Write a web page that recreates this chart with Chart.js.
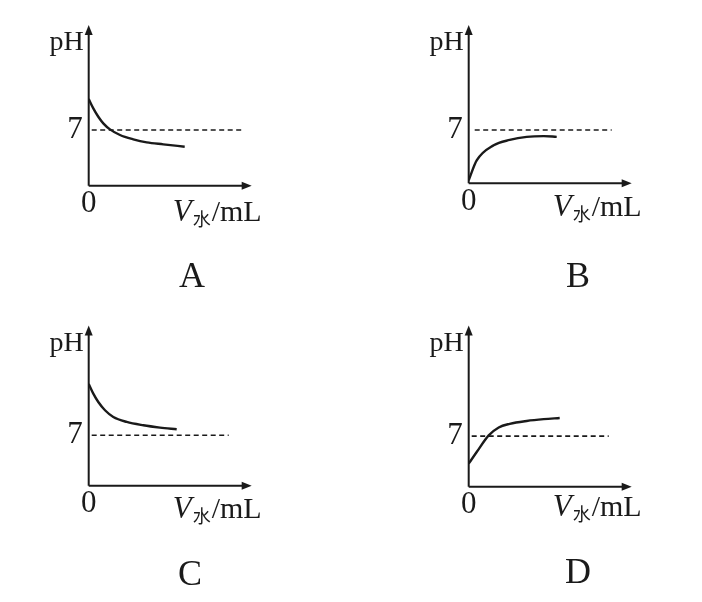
<!DOCTYPE html>
<html>
<head>
<meta charset="utf-8">
<script src="https://cdn.jsdelivr.net/npm/chart.js@4.4.1/dist/chart.umd.min.js"></script>
<style>
    html, body { margin: 0; padding: 0; background: #fff; }
    #wrap { position: relative; width: 702px; height: 602px; }
    .panel { position: absolute; width: 351px; height: 301px; }
</style>
</head>
<body>
<div id="wrap">
    <div class="panel" style="left:0;top:0"><canvas id="chartA" width="351" height="301"></canvas></div>
    <div class="panel" style="left:351px;top:0"><canvas id="chartB" width="351" height="301"></canvas></div>
    <div class="panel" style="left:0;top:301px"><canvas id="chartC" width="351" height="301"></canvas></div>
    <div class="panel" style="left:351px;top:301px"><canvas id="chartD" width="351" height="301"></canvas></div>
</div>
<script>
// water volume (arbitrary units) and pH
const volA = [0, 0.46, 0.96, 1.46, 2.13, 3.13, 4.46, 5.8, 7.46, 9.6];
const pHA = [10.9, 9.72, 8.67, 7.84, 7.08, 6.37, 5.83, 5.45, 5.2, 4.9];
const volB = [0, 0.8, 2.5, 4.1, 5.8, 7.5, 8.8];
const pHB = [0.4, 3.0, 5.0, 5.7, 6.1, 6.2, 6.1];
const volC = [0, 0.46, 0.96, 1.63, 2.46, 3.8, 5.46, 7.13, 8.8];
const pHC = [14.1, 12.76, 11.6, 10.46, 9.53, 8.84, 8.38, 8.06, 7.83];
const volD = [0, 0.8, 2.0, 3.0, 4.1, 5.8, 7.5, 9.1];
const pHD = [3.2, 4.8, 7.1, 8.2, 8.7, 9.1, 9.35, 9.5];

// neutral line pH = 7, start/end volume of the dashed line
const neutralPH = 7;
const dashA = [0.3, 15.4];
const dashB = [0.6, 14.3];
const dashC = [0.3, 14.0];
const dashD = [0.3, 14.0];

const panelLetters = ['A', 'B', 'C', 'D'];
const yTickValues = [7];
const xTickValues = [0];
const yTitle = 'pH';
const xTitleMain = 'V';
const xTitleSub = '水';
const xTitleUnit = '/mL';

const INK = '#1a1a1a';
const SERIF = "'Liberation Serif', 'DejaVu Serif', serif";

/**
 * Axes with arrow heads plus the free text of a panel
 */
const axesPlugin = {
    id: 'axesArrows',
    afterDraw(chart) {
        const ctx = chart.ctx;
        const xs = chart.scales.x;
        const ys = chart.scales.y;
        const opts = chart.options.plugins.axesArrows;
        const ox = xs.getPixelForValue(0);
        const oy = ys.getPixelForValue(0);
        const top = ys.getPixelForValue(ys.max);
        const right = xs.getPixelForValue(xs.max);

        ctx.save();
        ctx.strokeStyle = INK;
        ctx.fillStyle = INK;
        ctx.lineWidth = 2;
        ctx.beginPath();
        ctx.moveTo(ox, oy);
        ctx.lineTo(ox, top + 6);
        ctx.moveTo(ox, oy);
        ctx.lineTo(right - 6, oy);
        ctx.stroke();

        // arrow heads
        ctx.beginPath();
        ctx.moveTo(ox, top);
        ctx.lineTo(ox - 4, top + 10);
        ctx.lineTo(ox + 4, top + 10);
        ctx.closePath();
        ctx.fill();
        ctx.beginPath();
        ctx.moveTo(right, oy);
        ctx.lineTo(right - 10, oy - 4);
        ctx.lineTo(right - 10, oy + 4);
        ctx.closePath();
        ctx.fill();

        // pH label
        ctx.font = `28px ${SERIF}`;
        ctx.textAlign = 'right';
        ctx.textBaseline = 'alphabetic';
        ctx.fillText(yTitle, ox - 5, top + 25);

        // V水/mL label
        let x = ox + 84;
        const base = oy + opts.xTitleDy;
        ctx.textAlign = 'left';
        ctx.font = `italic 31px ${SERIF}`;
        ctx.fillText(xTitleMain, x, base);
        x += ctx.measureText(xTitleMain).width + 1;
        ctx.font = `18px 'Noto Sans CJK SC', sans-serif`;
        ctx.fillText(xTitleSub, x, base + 5);
        x += ctx.measureText(xTitleSub).width + 1;
        ctx.font = `30px ${SERIF}`;
        ctx.fillText(xTitleUnit, x, base);

        // panel letter
        ctx.font = `36px ${SERIF}`;
        ctx.textAlign = 'center';
        ctx.fillText(opts.letter, opts.letterX, opts.letterY);
        ctx.restore();
    }
};

/**
 * Build one panel chart
 */
function makePanel(canvasId, vols, pHs, dash, letter, layout) {
    const ctx = document.getElementById(canvasId).getContext('2d');
    return new Chart(ctx, {
        type: 'line',
        data: {
            datasets: [
                {
                    data: vols.map((v, i) => ({ x: v, y: pHs[i] })),
                    borderColor: INK,
                    borderWidth: 2.4,
                    pointRadius: 0,
                    cubicInterpolationMode: 'monotone',
                    fill: false
                },
                {
                    data: dash.map(v => ({ x: v, y: neutralPH })),
                    borderColor: INK,
                    borderWidth: 1.6,
                    borderDash: [5, 3.5],
                    pointRadius: 0,
                    fill: false
                }
            ]
        },
        options: {
            responsive: false,
            animation: false,
            layout: { padding: layout.padding },
            plugins: {
                legend: { display: false },
                tooltip: { enabled: false },
                axesArrows: {
                    letter: letter,
                    letterX: layout.letterX,
                    letterY: layout.letterY,
                    xTitleDy: layout.xTitleDy
                }
            },
            scales: {
                x: {
                    type: 'linear',
                    min: 0,
                    max: 16.3,
                    grid: { display: false, drawTicks: false },
                    border: { display: false },
                    afterBuildTicks: s => { s.ticks = xTickValues.map(v => ({ value: v })); },
                    afterFit: s => { s.height = 30; },
                    ticks: {
                        color: INK,
                        padding: 0,
                        maxRotation: 0,
                        autoSkip: false,
                        font: { family: SERIF, size: 31 }
                    }
                },
                y: {
                    type: 'linear',
                    min: 0,
                    max: layout.yMax,
                    grid: { display: false, drawTicks: false },
                    border: { display: false },
                    afterBuildTicks: s => { s.ticks = yTickValues.map(v => ({ value: v })); },
                    afterFit: s => { s.width = 40; },
                    ticks: {
                        color: INK,
                        padding: 6,
                        autoSkip: false,
                        font: { family: SERIF, size: 31 }
                    }
                }
            }
        },
        plugins: [axesPlugin]
    });
}

makePanel('chartA', volA, pHA, dashA, panelLetters[0], {
    padding: { left: 48.7, top: 25, right: 99.3, bottom: 85.3 },
    yMax: 20.2, letterX: 192, letterY: 287, xTitleDy: 35
});
makePanel('chartB', volB, pHB, dashB, panelLetters[1], {
    padding: { left: 77.7, top: 25, right: 70.3, bottom: 87.7 },
    yMax: 20.8, letterX: 227, letterY: 287, xTitleDy: 33
});
makePanel('chartC', volC, pHC, dashC, panelLetters[2], {
    padding: { left: 48.7, top: 24, right: 99.3, bottom: 86.3 },
    yMax: 22.2, letterX: 190, letterY: 284, xTitleDy: 32
});
makePanel('chartD', volD, pHD, dashD, panelLetters[3], {
    padding: { left: 77.7, top: 24, right: 70.3, bottom: 85.3 },
    yMax: 22.3, letterX: 227, letterY: 282, xTitleDy: 29
});
</script>
</body>
</html>
